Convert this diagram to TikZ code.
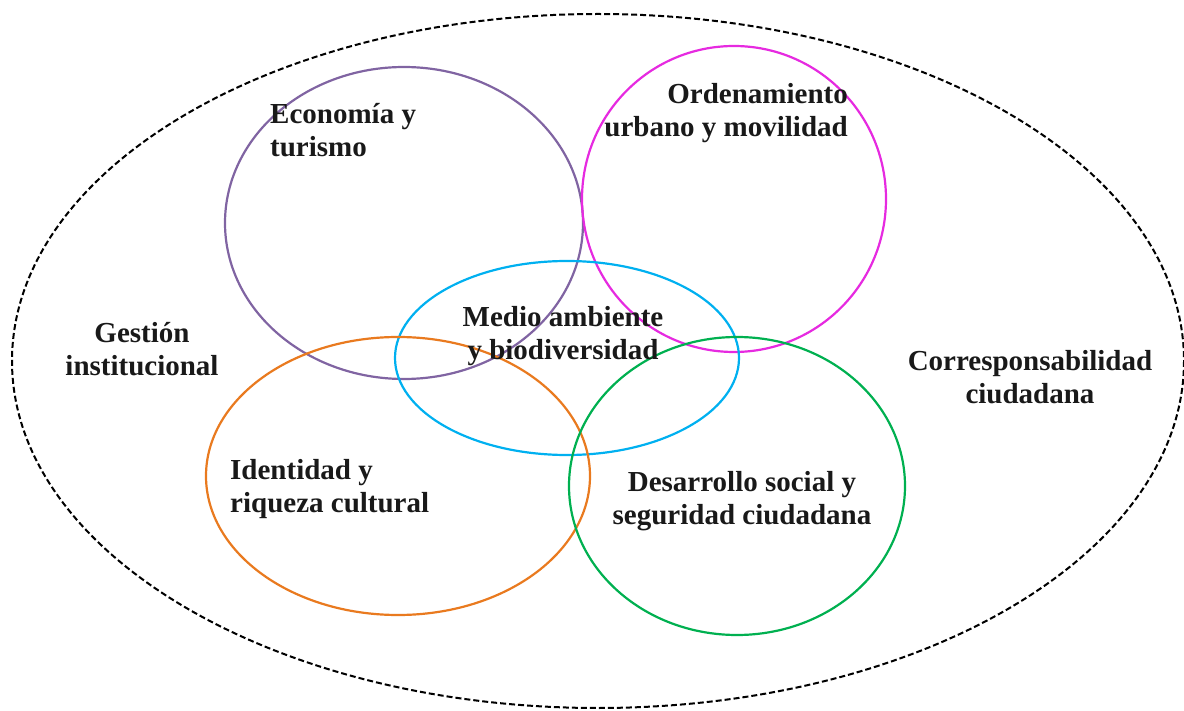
\documentclass[tikz,border=0pt]{standalone}
\usepackage{fontspec}
\setmainfont{Liberation Serif}
\definecolor{cpurple}{HTML}{8064A2}
\definecolor{cmagenta}{HTML}{E62AE0}
\definecolor{ccyan}{HTML}{00B0F0}
\definecolor{corange}{HTML}{E97A1F}
\definecolor{cgreen}{HTML}{00B050}
\begin{document}
\begin{tikzpicture}[x=1pt,y=-1pt,
  ring/.style={line width=2.2pt},
  lbl/.style={font=\bfseries\fontsize{29}{33.5}\selectfont, inner sep=0pt, text=black!90}]
\useasboundingbox (0,0) rectangle (1184,711);
\draw[line width=2pt, dash pattern=on 6pt off 3pt] (598,361) ellipse [x radius=586, y radius=347];
\draw[ring, cpurple] (404,223) ellipse [x radius=179, y radius=156];
\draw[ring, cmagenta] (734,199) ellipse [x radius=152, y radius=153];
\draw[ring, ccyan] (567,358) ellipse [x radius=172, y radius=97];
\draw[ring, corange] (398,476) ellipse [x radius=192, y radius=139];
\draw[ring, cgreen] (737,486) ellipse [x radius=168, y radius=149];
\node[lbl, align=left, anchor=west] (eco) at (270,130) {Economía y\\turismo};
\node[lbl, align=right, anchor=east] (ord) at (848,113) {Ordenamiento\\urbano y movilidad};
\node[lbl, align=center] (med) at (563,336) {Medio ambiente\\y biodiversidad};
\node[lbl, align=center] (ges) at (142,349) {Gestión\\institucional};
\node[lbl, align=center] (cor) at (1030,377) {Corresponsabilidad\\ciudadana};
\node[lbl, align=left, anchor=west] (ide) at (230,489) {Identidad y\\riqueza cultural};
\node[lbl, align=center] (des) at (742,501) {Desarrollo social y\\seguridad ciudadana};
\end{tikzpicture}
\end{document}
